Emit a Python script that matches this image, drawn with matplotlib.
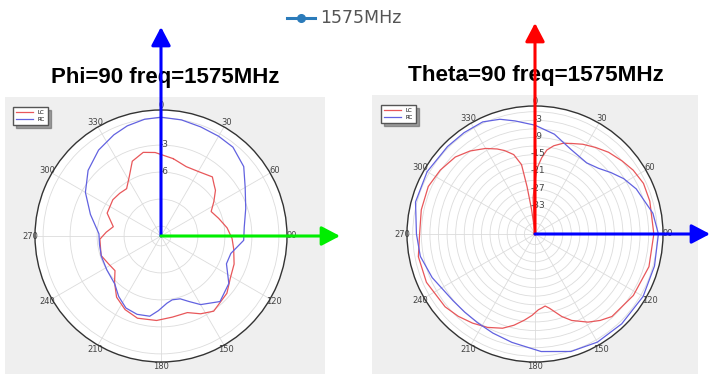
import numpy as np
import matplotlib
matplotlib.use("Agg")
import matplotlib.pyplot as plt
from matplotlib.patches import Rectangle, FancyArrowPatch, ArrowStyle
from matplotlib.lines import Line2D
from matplotlib.transforms import offset_copy

# ==========================================
# DATA (angles in degrees, gain in dB)
# ==========================================

phi_rc_ang = [0, 10, 20, 30, 39, 50, 60, 72, 84, 93, 104, 113, 125, 138,
              150, 157, 163, 170, 175, 182, 188, 197, 206, 215, 224, 238,
              251, 262, 272, 287, 300, 312, 324, 335, 343, 352]
phi_rc_db = [0.1, 0.0, -0.2, -0.3, -0.4, -1.1, -2.3, -3.2, -3.8, -3.9, -5.1,
             -5.2, -3.9, -3.3, -4.3, -5.2, -5.8, -5.9, -5.6, -4.8, -4.1, -4.0,
             -4.2, -4.9, -5.7, -6.0, -6.1, -6.2, -6.2, -4.9, -3.4, -2.2, -1.3,
             -0.7, -0.3, 0.0]

phi_lc_ang = [9, 20, 31, 41, 46, 50, 57, 64, 73, 83, 92, 100, 111, 121, 131,
              145, 153, 161, 172, 183, 196, 206, 216, 225, 233, 242, 252, 267,
              274, 281, 293, 307, 316, 324, 332, 339, 348, 356]
phi_lc_db = [-4.4, -4.9, -4.8, -4.4, -4.9, -5.2, -6.1, -6.9, -6.4, -5.7, -5.2,
             -4.9, -4.4, -4.1, -3.4, -2.9, -3.4, -4.1, -4.0, -3.7, -3.6, -4.0,
             -4.7, -5.8, -6.7, -6.5, -6.1, -6.3, -7.0, -7.7, -6.6, -6.4, -6.5,
             -6.6, -5.6, -4.2, -3.6, -3.8]

theta_rc_ang = [0, 11, 23, 36, 44, 51, 58, 66, 80, 90, 105, 120, 136, 150,
                163, 177, 192, 203, 213, 222, 231, 247, 259, 270, 285, 300,
                315, 325, 335, 343, 350]
theta_rc_db = [-4.7, -7.2, -10.6, -12.0, -10.8, -8.6, -6.2, -4.0, -0.9, 0.4,
               0.5, 0.9, 0.9, 0.9, 0.2, -1.6, -4.0, -5.1, -5.8, -6.0, -5.8,
               -3.7, -1.9, -1.3, 0.5, 0.8, 0.5, 0.5, 0.5, -0.8, -2.6]

theta_lc_ang = [0, 2, 5, 8, 12, 17, 22, 28, 35, 42, 50, 57, 65, 74, 90, 106,
                122, 137, 143, 149, 157, 162, 166, 169, 172, 174.5, 177.5, 182,
                187, 193, 199, 207, 215, 223, 231, 246, 259, 270, 282, 294,
                304, 314, 322, 330, 336, 340, 345, 349, 350.5, 352, 354, 357]
theta_lc_db = [-24, -19.5, -16, -13.1, -11.2, -9.6, -8.6, -7.2, -5.8, -4.3,
               -3.0, -1.8, -0.9, -1.0, -1.2, -1.3, -2.2, -3.3, -4.9, -6.8,
               -9.9, -12.4, -14.8, -16.3, -17.3, -16.8, -16.2, -14.3, -12.4,
               -10.0, -7.9, -6.1, -4.7, -3.4, -2.3, -1.2, -1.2, -2.4, -2.1,
               -1.9, -2.8, -4.0, -5.9, -8.2, -10.2, -11.7, -14, -18, -26, -34,
               -41, -30]

angle_ticks = [0, 30, 60, 90, 120, 150, 180, 210, 240, 270, 300, 330]

phi_rings = [-12, -9, -6, -3, 0]
phi_ring_labels = {-3: "-3", -6: "-6"}

theta_rings = list(range(-42, 1, 3))
theta_ring_labels = {v: str(v) for v in (-33, -27, -21, -15, -9, -3)}

legend_label = "1575MHz"

# ==========================================
# FIGURE
# ==========================================

W, H = 710, 374
fig = plt.figure(figsize=(W / 100, H / 100), dpi=100)
fig.patch.set_facecolor("white")


def fx(x):
    return x / W


def fy(y):
    return 1 - y / H


# gray panels behind the polar plots
for x0, y0, x1, y1 in [(5, 97, 325, 374), (372, 95, 698, 374)]:
    fig.add_artist(Rectangle((fx(x0), fy(y1)), fx(x1) - fx(x0), fy(y0) - fy(y1),
                             transform=fig.transFigure, facecolor="#efefef",
                             edgecolor="none", zorder=0))

LC_COLOR = "#e8575a"
RC_COLOR = "#6262e0"


def make_polar(cx, cy, R, rmin, rmax, rings, ring_labels):
    ax = fig.add_axes([fx(cx - R), fy(cy + R), 2 * R / W, 2 * R / H],
                      projection="polar")
    ax.set_theta_zero_location("N")
    ax.set_theta_direction(-1)
    ax.set_ylim(rmin, rmax)
    ax.set_thetagrids(angle_ticks, [str(a) for a in angle_ticks])
    ax.set_rgrids(rings, [""] * len(rings))
    ax.grid(color="#dcdcdc", linewidth=0.6)
    ax.tick_params(axis="x", labelsize=6, colors="#444444", pad=-7)
    ax.spines["polar"].set_color("#333333")
    ax.spines["polar"].set_linewidth(1.0)
    ax.set_facecolor("white")
    # radial labels just right of the 0 degree spoke
    shifted = offset_copy(ax.transData, fig=fig, x=3, y=1, units="dots")
    for val, lab in ring_labels.items():
        ax.text(0, val, lab, ha="center", va="center", fontsize=6.5,
                color="#444444", transform=shifted)
    return ax


def closed(ang, val):
    a = np.deg2rad(list(ang) + [ang[0]])
    v = list(val) + [val[0]]
    return a, v


def inner_legend(ax, x, y):
    ax.legend(loc="upper left", bbox_to_anchor=(fx(x), fy(y)),
              bbox_transform=fig.transFigure, fontsize=4, frameon=True,
              fancybox=False, shadow=True, edgecolor="#555555",
              handlelength=3.2, borderpad=0.5, labelspacing=0.5)


# ==========================================
# PHI = 90
# ==========================================

ax1 = make_polar(161, 236, 126, -13.1, 0.9, phi_rings, phi_ring_labels)
a, v = closed(phi_lc_ang, phi_lc_db)
ax1.plot(a, v, color=LC_COLOR, linewidth=0.9, label="LC")
a, v = closed(phi_rc_ang, phi_rc_db)
ax1.plot(a, v, color=RC_COLOR, linewidth=0.9, label="RC")
inner_legend(ax1, 10, 104)

fig.text(fx(165), fy(78), "Phi=90 freq=1575MHz", ha="center", va="center",
         fontsize=16, fontweight="bold", family="Liberation Sans")

# ==========================================
# THETA = 90
# ==========================================

ax2 = make_polar(535, 234, 128, -42.7, 2.0, theta_rings, theta_ring_labels)
a, v = closed(theta_lc_ang, theta_lc_db)
ax2.plot(a, v, color=LC_COLOR, linewidth=0.9, label="LC")
a, v = closed(theta_rc_ang, theta_rc_db)
ax2.plot(a, v, color=RC_COLOR, linewidth=0.9, label="RC")
inner_legend(ax2, 378, 102)

fig.text(fx(536), fy(75), "Theta=90 freq=1575MHz", ha="center", va="center",
         fontsize=16.2, fontweight="bold", family="Liberation Sans")

# ==========================================
# AXIS ARROWS
# ==========================================

arrow_style = ArrowStyle("-|>", head_length=0.8, head_width=0.42)
for (x0, y0), (x1, y1), col in [((161, 236), (161, 27), "#0000ff"),
                                ((161, 236), (340, 236), "#00ee00"),
                                ((535, 234), (535, 23), "#ff0000"),
                                ((535, 234), (710, 234), "#0000ff")]:
    fig.add_artist(FancyArrowPatch((fx(x0), fy(y0)), (fx(x1), fy(y1)),
                                   transform=fig.transFigure,
                                   arrowstyle=arrow_style, mutation_scale=14,
                                   color=col, linewidth=2.2, shrinkA=0,
                                   shrinkB=0, zorder=10))

# ==========================================
# TOP LEGEND
# ==========================================

fig.add_artist(Line2D([fx(287), fx(315)], [fy(18), fy(18)],
                      transform=fig.transFigure, color="#2b7bba",
                      linewidth=2.2, zorder=5))
fig.add_artist(Line2D([fx(301)], [fy(18)], transform=fig.transFigure,
                      marker="o", markersize=5.5, color="#2b7bba", zorder=6))
fig.text(fx(320), fy(18), legend_label, ha="left", va="center",
         fontsize=12.5, color="#555555", family="DejaVu Sans")

fig.savefig("out.png", dpi=100)
